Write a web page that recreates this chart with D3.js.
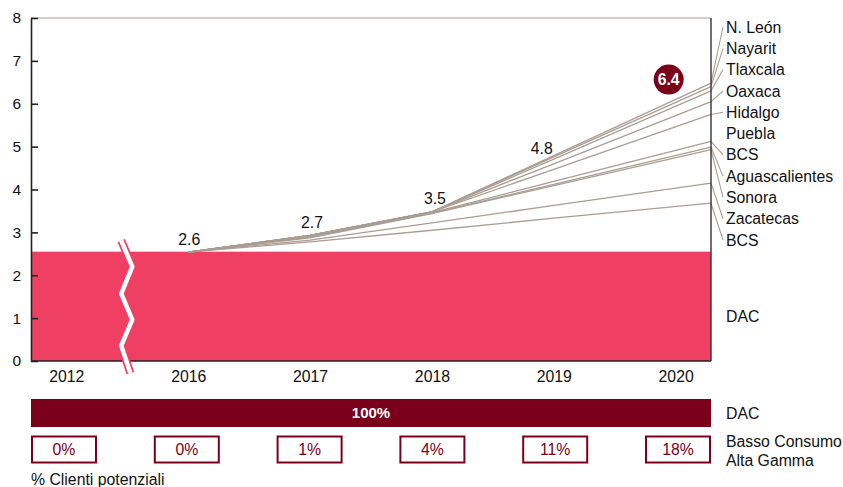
<!DOCTYPE html>
<html><head><meta charset="utf-8">
<script src="https://cdn.jsdelivr.net/npm/d3@7"></script>
<style>
body{margin:0;background:#fff;}
text{font-family:"Liberation Sans",Arial,Helvetica,sans-serif;fill:#111;}
</style></head>
<body><svg id="c" width="843" height="487"></svg>
<script>
// ---- data ----
const years = ["2012","2016","2017","2018","2019","2020"];
const yTicks = [0,1,2,3,4,5,6,7,8];
const dacValue = 2.55;
const lineYears = ["2016","2017","2018","2019","2020"];
const regions = ["N. León","Nayarit","Tlaxcala","Oaxaca","Hidalgo","Puebla","BCS","Aguascalientes","Sonora","Zacatecas","BCS"];
const nLeon      = [2.54, 2.93, 3.48, 4.79, 6.48];
const nayarit    = [2.54, 2.93, 3.48, 4.76, 6.40];
const tlaxcala   = [2.54, 2.93, 3.48, 4.71, 6.30];
const oaxaca     = [2.54, 2.93, 3.48, 4.60, 6.05];
const hidalgo    = [2.54, 2.93, 3.48, 4.47, 5.75];
const puebla     = null;
const bcs1       = [2.54, 2.91, 3.46, 4.19, 5.12];
const aguas      = [2.54, 2.89, 3.45, 4.12, 4.99];
const sonora     = [2.54, 2.87, 3.44, 4.09, 4.93];
const zacatecas  = [2.54, 2.82, 3.22, 3.63, 4.15];
const bcs2       = [2.54, 2.78, 3.05, 3.33, 3.68];
const seriesValues = [nLeon, nayarit, tlaxcala, oaxaca, hidalgo, puebla, bcs1, aguas, sonora, zacatecas, bcs2];
const valueLabels = ["2.6","2.7","3.5","4.8"];
const valueLabelYears = ["2016","2017","2018","2019"];
const bubbleLabel = "6.4";
const bubbleValue = 6.4;
const dacLabel = "DAC";
const dacPct = "100%";
const lowPct = ["0%","0%","1%","4%","11%","18%"];
const bottomLabels = ["DAC","Basso Consumo","Alta Gamma"];
const footnote = "% Clienti potenziali";

// ---- layout ----
const svg = d3.select("#c");
const L = 31, R = 711, T = 18, B = 361;
const pink = "#ef3f63", dark = "#7b0019", tan = "#aa9d93", ink = "#111";
const FS = 15.8;

const x = d3.scalePoint().domain(years).range([L, R]).padding(0.29);
const y = d3.scaleLinear().domain([0, 8]).range([B, T]);
const lx = yr => yr === "2020" ? R : x(yr);

// pink DAC area
svg.append("rect").attr("x", L).attr("y", y(dacValue)).attr("width", R - L).attr("height", y(0) - y(dacValue)).attr("fill", pink);

// top border
svg.append("line").attr("x1", L).attr("x2", R).attr("y1", y(8)).attr("y2", y(8)).attr("stroke", tan).attr("stroke-width", 1.2);

// lines
const line = d3.line().x((d, i) => lx(lineYears[i])).y(d => y(d));
const labelY = d3.scalePoint().domain(d3.range(regions.length)).range([27, 240]);
seriesValues.forEach((vals, i) => {
  if (!vals) return;
  svg.append("path").attr("d", line(vals)).attr("fill", "none").attr("stroke", tan).attr("stroke-width", 1.3);
  svg.append("line").attr("x1", R).attr("y1", y(vals[vals.length - 1])).attr("x2", R + 12).attr("y2", labelY(i))
     .attr("stroke", tan).attr("stroke-width", 1.1);
});

// axes
const yAxis = d3.axisLeft(y).tickValues(yTicks).tickFormat(d3.format("d")).tickSizeInner(-7).tickSizeOuter(0).tickPadding(10);
const ga = svg.append("g").attr("transform", `translate(${L},0)`).call(yAxis);
ga.select(".domain").attr("stroke", "#222").attr("stroke-width", 1.6);
ga.selectAll(".tick line").attr("stroke", "#222").attr("stroke-width", 1.6);
ga.selectAll(".tick text").attr("font-size", 15.5).attr("fill", ink).style("font-family", '"Liberation Sans",Arial,sans-serif');

svg.append("line").attr("x1", L).attr("x2", R).attr("y1", B).attr("y2", B).attr("stroke", "#222").attr("stroke-width", 1.6);
svg.append("line").attr("x1", R).attr("x2", R).attr("y1", T).attr("y2", B).attr("stroke", "#333").attr("stroke-width", 1.4);

const xAxis = d3.axisBottom(x).tickSize(0).tickPadding(10);
const gx = svg.append("g").attr("transform", `translate(0,${B})`).call(xAxis);
gx.select(".domain").remove();
gx.selectAll(".tick text").attr("font-size", FS).attr("fill", ink).style("font-family", '"Liberation Sans",Arial,sans-serif');

// axis break
const bx = (x("2012") + x("2016")) / 2;
const yt = y(dacValue) - 11, yb = B + 12;
const zig = [[-6, yt], [5, yt + 26], [-6, yt + 53], [5, yt + 79], [-6, yt + 105], [3, yb]];
const zl = d3.line().x(d => bx + d[0]).y(d => d[1]);
svg.append("path").attr("d", zl(zig)).attr("fill", "none").attr("stroke", pink).attr("stroke-width", 8);
svg.append("path").attr("d", zl(zig)).attr("fill", "none").attr("stroke", "#fff").attr("stroke-width", 4.5);

// value labels
const lblDx = [1, 2, 3, -12], lblDy = [-7, -7, -8, -2];
valueLabels.forEach((t, i) => {
  const yr = valueLabelYears[i];
  svg.append("text").attr("x", x(yr) + lblDx[i]).attr("y", y(nLeon[lineYears.indexOf(yr)]) + lblDy[i])
     .attr("text-anchor", "middle").attr("font-size", FS).text(t);
});

// bubble
const bxC = x("2020") - 7, byC = y(bubbleValue) - 7;
svg.append("circle").attr("cx", bxC).attr("cy", byC).attr("r", 15).attr("fill", dark);
svg.append("text").attr("x", bxC).attr("y", byC).attr("dy", "0.36em").attr("text-anchor", "middle")
   .attr("font-size", FS).attr("font-weight", "bold").style("fill", "#fff").text(bubbleLabel);

// region labels
regions.forEach((r, i) => {
  svg.append("text").attr("x", R + 15).attr("y", labelY(i)).attr("dy", "0.36em").attr("font-size", FS).text(r);
});
svg.append("text").attr("x", R + 15).attr("y", y(1.05)).attr("dy", "0.36em").attr("font-size", FS).text(dacLabel);

// bottom section
svg.append("rect").attr("x", L).attr("y", 399).attr("width", R - L).attr("height", 28).attr("fill", dark);
svg.append("text").attr("x", (L + R) / 2).attr("y", 413).attr("dy", "0.36em").attr("text-anchor", "middle")
   .attr("font-size", 15).attr("font-weight", "bold").style("fill", "#fff").text(dacPct);

const band = d3.scaleBand().domain(years).range([L, R]).paddingInner(0.4625).paddingOuter(0);
years.forEach((yr, i) => {
  svg.append("rect").attr("x", band(yr) + 1).attr("y", 436.5).attr("width", band.bandwidth() - 2).attr("height", 26)
     .attr("fill", "#fff").attr("stroke", dark).attr("stroke-width", 2);
  svg.append("text").attr("x", band(yr) + band.bandwidth() / 2).attr("y", 449.5).attr("dy", "0.36em")
     .attr("text-anchor", "middle").attr("font-size", FS).style("fill", dark).text(lowPct[i]);
});
svg.append("text").attr("x", R + 15).attr("y", 413).attr("dy", "0.36em").attr("font-size", FS).text(bottomLabels[0]);
svg.append("text").attr("x", R + 15).attr("y", 441).attr("dy", "0.36em").attr("font-size", FS).text(bottomLabels[1]);
svg.append("text").attr("x", R + 15).attr("y", 460).attr("dy", "0.36em").attr("font-size", FS).text(bottomLabels[2]);
svg.append("text").attr("x", L).attr("y", 479).attr("dy", "0.36em").attr("font-size", FS).text(footnote);
</script></body></html>
